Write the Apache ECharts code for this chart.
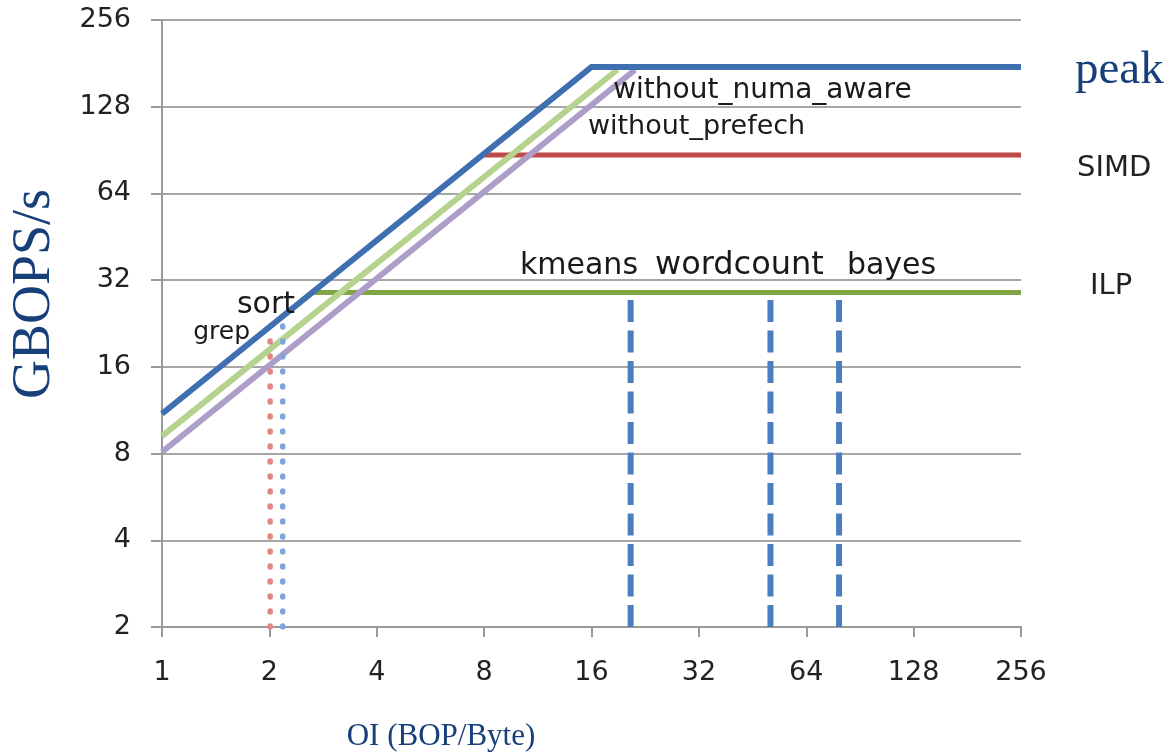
<!DOCTYPE html>
<html>
<head>
<meta charset="utf-8">
<script src="https://cdn.jsdelivr.net/npm/echarts@6/dist/echarts.min.js"></script>
<style>
html,body{margin:0;padding:0;background:#fff;}
#chart{width:1171px;height:756px;}
</style>
</head>
<body>
<div id="chart"></div>
<script>
// ---- data ----
const xTicks = [1, 2, 4, 8, 16, 32, 64, 128, 256];
const yTicks = [2, 4, 8, 16, 32, 64, 128, 256];

const peakOI = [1, 16, 256];
const peakPerf = [11, 176, 176];
const numaOI = [1, 18.9];
const numaPerf = [9.2, 172];
const prefetchOI = [1, 21.2];
const prefetchPerf = [8.1, 172];
const simdOI = [8, 256];
const simdPerf = [87, 87];
const ilpOI = [2.64, 256];
const ilpPerf = [29, 29];

const appNames = ['kmeans', 'wordcount', 'bayes'];
const appOI = [20.6, 50.8, 79.1];
const appPerf = [28, 28, 28];

const dotNames = ['grep', 'sort'];
const dotOI = [2.01, 2.18];
const dotPerf = [21, 24];

const axisFloor = 2;

// ---- helpers ----
const zip = (xs, ys) => xs.map((x, i) => [x, ys[i]]);
const titleColor = '#17407a';
const textColor = '#1a1a1a';
const sans = 'DejaVu Sans';

const series = [];

function roof(name, xs, ys, color, width, z, endLabel) {
  const s = {
    name, type: 'line', data: zip(xs, ys), symbol: 'none', z,
    lineStyle: { color, width, cap: 'butt', join: 'miter' },
    silent: true, animation: false
  };
  if (endLabel) s.endLabel = endLabel;
  series.push(s);
}

roof('SIMD', simdOI, simdPerf, '#bd4a47', 5, 2, {
  show: true, formatter: 'SIMD', position: 'right', distance: 56, offset: [0, 13],
  fontFamily: sans, fontSize: 29, color: '#222'
});
roof('ILP', ilpOI, ilpPerf, '#7fa545', 5, 2, {
  show: true, formatter: 'ILP', position: 'right', distance: 69, offset: [0, -6],
  fontFamily: sans, fontSize: 29, color: '#222'
});
roof('without_numa_aware', numaOI, numaPerf, '#b5d38e', 6, 3);
roof('without_prefech', prefetchOI, prefetchPerf, '#ad9dc9', 6, 3);
roof('peak', peakOI, peakPerf, '#3f6fb1', 6, 4, {
  show: true, formatter: 'peak', position: 'right', distance: 54, offset: [0, 4],
  fontFamily: 'Liberation Serif', fontSize: 47, color: titleColor
});

appNames.forEach((n, i) => {
  series.push({
    name: n, type: 'line', symbol: 'none', z: 5, silent: true, animation: false,
    data: [[appOI[i], axisFloor], [appOI[i], appPerf[i]]],
    lineStyle: { color: '#4a7ebf', width: 6, type: [22, 8.5] }
  });
});

const dotColors = ['#df8883', '#7fa6dc'];
dotNames.forEach((n, i) => {
  series.push({
    name: n, type: 'line', symbol: 'none', z: 6, silent: true, animation: false,
    data: [[dotOI[i], axisFloor], [dotOI[i], dotPerf[i]]],
    lineStyle: { color: dotColors[i], width: 5.5, type: [1, 14], cap: 'round' }
  });
});

// text annotations anchored in data coordinates
const annotations = [
  { text: 'without_numa_aware', at: [18.4, 146], side: 'right', size: 28 },
  { text: 'without_prefech', at: [15.63, 108.5], side: 'right', size: 27 },
  { text: appNames[0], at: [10.08, 35.9], side: 'right', size: 30 },
  { text: appNames[1], at: [24.1, 35.9], side: 'right', size: 32 },
  { text: appNames[2], at: [83.2, 35.9], side: 'right', size: 30 },
  { text: dotNames[1], at: [2.36, 26.1], side: 'left', size: 30 },
  { text: dotNames[0], at: [1.765, 21.07], side: 'left', size: 25 }
];
series.push({
  type: 'scatter', symbolSize: 0, z: 10, silent: true, animation: false, clip: false,
  itemStyle: { opacity: 1 },
  data: annotations.map(a => ({
    value: a.at, name: a.text,
    label: {
      show: true, formatter: a.text, position: a.side, distance: 0, opacity: 1,
      fontFamily: sans, fontSize: a.size, color: textColor
    }
  }))
});

const fmt = v => String(Math.round(v));

const chart = echarts.init(document.getElementById('chart'), null, { renderer: 'canvas' });
chart.setOption({
  animation: false,
  backgroundColor: '#ffffff',
  grid: { left: 162, right: 150, top: 20, bottom: 129, containLabel: false },
  xAxis: {
    type: 'log', logBase: 2, min: xTicks[0], max: xTicks[xTicks.length - 1], splitNumber: 8,
    axisLine: { show: true, lineStyle: { color: '#9a9a9a', width: 2 } },
    axisTick: { show: true, length: 10, lineStyle: { color: '#9a9a9a', width: 2 } },
    axisLabel: { margin: 32, fontFamily: sans, fontSize: 27, color: '#222', formatter: fmt },
    splitLine: { show: false },
    minorTick: { show: false }
  },
  yAxis: {
    type: 'log', logBase: 2, min: yTicks[0], max: yTicks[yTicks.length - 1], splitNumber: 7,
    axisLine: { show: true, lineStyle: { color: '#9a9a9a', width: 2 } },
    axisTick: { show: true, length: 11, lineStyle: { color: '#9a9a9a', width: 2 } },
    axisLabel: { margin: 31, fontFamily: sans, fontSize: 27, color: '#222', formatter: fmt },
    splitLine: { show: true, lineStyle: { color: '#a6a6a6', width: 2 } }
  },
  graphic: [
    {
      type: 'text', x: 35, y: 294, rotation: Math.PI / 2,
      style: {
        text: 'GBOPS/s', font: '54px "Liberation Serif"', fill: titleColor,
        textAlign: 'center', textVerticalAlign: 'middle'
      }
    },
    {
      type: 'text', x: 441, y: 737,
      style: {
        text: 'OI (BOP/Byte)', font: '31px "Liberation Serif"', fill: titleColor,
        textAlign: 'center', textVerticalAlign: 'middle'
      }
    }
  ],
  series
});
</script>
</body>
</html>
